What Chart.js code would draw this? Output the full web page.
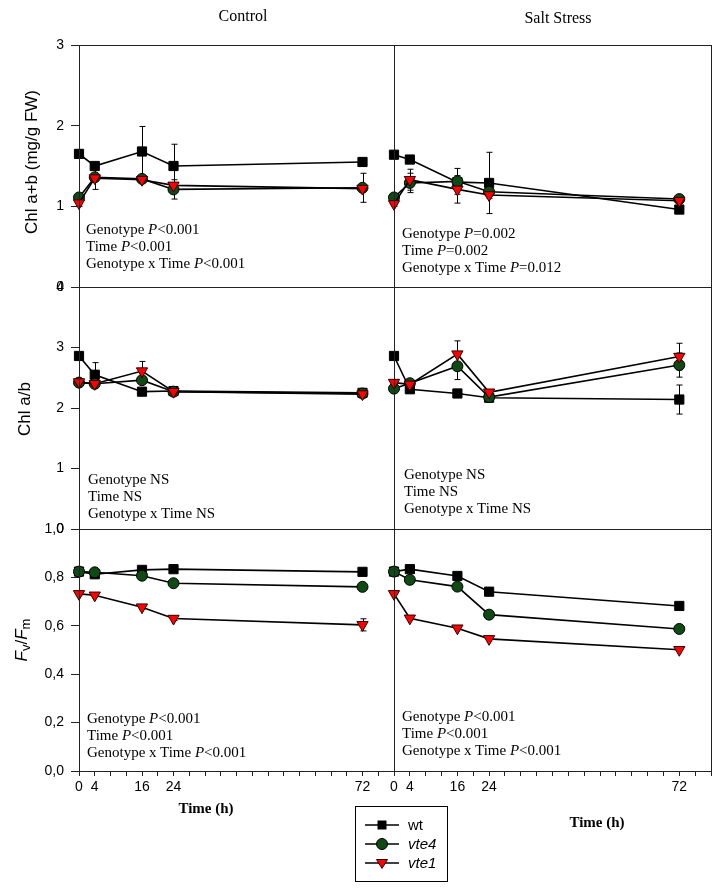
<!DOCTYPE html>
<html>
<head>
<meta charset="utf-8">
<script src="https://cdn.jsdelivr.net/npm/chart.js@4.4.0/dist/chart.umd.min.js"></script>
<style>
body { margin: 0; background: #fff; }
#wrap { position: relative; width: 724px; height: 896px; overflow: hidden; background: #fff; }
#wrap canvas { position: absolute; left: 0; top: 0; }
.serif { position: absolute; font-family: 'Liberation Serif', 'Times New Roman', serif; color: #000; white-space: nowrap; }
.stat { font-size: 15px; line-height: 17px; }
.coltitle { font-size: 16px; transform: translate(-50%, -50%); }
.xtitle { font-size: 15px; font-weight: bold; transform: translate(-50%, -50%); }
.ytitle { position: absolute; font-family: 'Liberation Sans', Arial, sans-serif; font-size: 17px; color: #000; white-space: nowrap; transform: translate(-50%, -50%) rotate(-90deg); }
.ytitle sub { font-size: 13px; vertical-align: -3px; }
#legend { position: absolute; left: 355px; top: 806px; width: 91px; height: 74px; border: 1px solid #000; font-family: 'Liberation Sans', Arial, sans-serif; font-size: 15px; }
#legend .row { position: absolute; left: 9px; height: 18px; }
#legend svg { position: absolute; left: 0; top: 0; }
#legend span { position: absolute; left: 43px; top: 0; line-height: 18px; }
</style>
</head>
<body>
<div id="wrap">
  <canvas id="c0" width="724" height="896"></canvas>
  <canvas id="c1" width="724" height="896"></canvas>
  <canvas id="c2" width="724" height="896"></canvas>
  <canvas id="c3" width="724" height="896"></canvas>
  <canvas id="c4" width="724" height="896"></canvas>
  <canvas id="c5" width="724" height="896"></canvas>

  <div class="serif coltitle" style="left:243px; top:16px;">Control</div>
  <div class="serif coltitle" style="left:558px; top:18px;">Salt Stress</div>

  <div class="ytitle" style="left:32px; top:162px;">Chl a+b (mg/g FW)</div>
  <div class="ytitle" style="left:25px; top:409px;">Chl a/b</div>
  <div class="ytitle" style="left:22px; top:640px;"><i>F</i><sub>v</sub>/<i>F</i><sub>m</sub></div>

  <div class="serif stat" style="left:86px; top:221px;">Genotype <i>P</i>&lt;0.001<br>Time <i>P</i>&lt;0.001<br>Genotype x Time <i>P</i>&lt;0.001</div>
  <div class="serif stat" style="left:402px; top:225px;">Genotype <i>P</i>=0.002<br>Time <i>P</i>=0.002<br>Genotype x Time <i>P</i>=0.012</div>
  <div class="serif stat" style="left:88px; top:471px;">Genotype NS<br>Time NS<br>Genotype x Time NS</div>
  <div class="serif stat" style="left:404px; top:466px;">Genotype NS<br>Time NS<br>Genotype x Time NS</div>
  <div class="serif stat" style="left:87px; top:710px;">Genotype <i>P</i>&lt;0.001<br>Time <i>P</i>&lt;0.001<br>Genotype x Time <i>P</i>&lt;0.001</div>
  <div class="serif stat" style="left:402px; top:708px;">Genotype <i>P</i>&lt;0.001<br>Time <i>P</i>&lt;0.001<br>Genotype x Time <i>P</i>&lt;0.001</div>

  <div class="serif xtitle" style="left:206px; top:808px;">Time (h)</div>
  <div class="serif xtitle" style="left:597px; top:822px;">Time (h)</div>

  <div id="legend">
    <div class="row" style="top:9px;">
      <svg width="40" height="18"><line x1="0" y1="9" x2="34" y2="9" stroke="#000" stroke-width="1.6"/><rect x="12.5" y="4.5" width="9" height="9" fill="#000"/></svg>
      <span>wt</span>
    </div>
    <div class="row" style="top:28px;">
      <svg width="40" height="18"><line x1="0" y1="9" x2="34" y2="9" stroke="#000" stroke-width="1.6"/><circle cx="17" cy="9" r="5.5" fill="#0f4a14" stroke="#000"/></svg>
      <span><i>vte4</i></span>
    </div>
    <div class="row" style="top:47px;">
      <svg width="40" height="18"><line x1="0" y1="9" x2="34" y2="9" stroke="#000" stroke-width="1.6"/><polygon points="11.5,5.5 22.5,5.5 17,14.5" fill="#ff0000" stroke="#300000"/></svg>
      <span><i>vte1</i></span>
    </div>
  </div>
</div>

<script>
// sampling times (h)
var times = [0, 4, 16, 24, 72];
var xTickLabels = [0, 4, 16, 24, 72];
var genotypes = ['wt', 'vte4', 'vte1'];

// Chl a+b (mg/g FW) - control
var chlCtrlWt      = [1.65, 1.50, 1.68, 1.50, 1.55];
var chlCtrlVte4    = [1.11, 1.36, 1.34, 1.21, 1.23];
var chlCtrlVte1    = [1.04, 1.35, 1.33, 1.26, 1.22];
var chlCtrlWtErr   = [0.05, 0.03, 0.31, 0.27, 0.03];
var chlCtrlVte4Err = [0.04, 0.02, 0.03, 0.12, 0.18];
var chlCtrlVte1Err = [0.04, 0.14, 0.04, 0.03, 0.03];

// Chl a+b - salt stress
var chlSaltWt      = [1.64, 1.58, 1.30, 1.29, 0.96];
var chlSaltVte4    = [1.11, 1.29, 1.31, 1.18, 1.09];
var chlSaltVte1    = [1.03, 1.33, 1.21, 1.14, 1.07];
var chlSaltWtErr   = [0.04, 0.04, 0.00, 0.38, 0.02];
var chlSaltVte4Err = [0.03, 0.12, 0.16, 0.03, 0.02];
var chlSaltVte1Err = [0.03, 0.13, 0.17, 0.04, 0.02];

// Chl a/b - control
var abCtrlWt      = [2.86, 2.55, 2.27, 2.28, 2.25];
var abCtrlVte4    = [2.42, 2.40, 2.46, 2.27, 2.24];
var abCtrlVte1    = [2.43, 2.40, 2.61, 2.27, 2.23];
var abCtrlWtErr   = [0.03, 0.20, 0.03, 0.02, 0.02];
var abCtrlVte4Err = [0.02, 0.02, 0.05, 0.02, 0.02];
var abCtrlVte1Err = [0.02, 0.02, 0.16, 0.02, 0.02];

// Chl a/b - salt stress
var abSaltWt      = [2.86, 2.31, 2.24, 2.17, 2.14];
var abSaltVte4    = [2.32, 2.41, 2.69, 2.18, 2.71];
var abSaltVte1    = [2.42, 2.39, 2.89, 2.26, 2.85];
var abSaltWtErr   = [0.02, 0.02, 0.02, 0.02, 0.24];
var abSaltVte4Err = [0.02, 0.02, 0.22, 0.02, 0.20];
var abSaltVte1Err = [0.02, 0.02, 0.22, 0.02, 0.22];

// Fv/Fm - control
var fvCtrlWt      = [0.824, 0.813, 0.831, 0.834, 0.823];
var fvCtrlVte4    = [0.824, 0.821, 0.807, 0.776, 0.761];
var fvCtrlVte1    = [0.732, 0.726, 0.677, 0.630, 0.604];
var fvCtrlWtErr   = [0, 0, 0, 0, 0];
var fvCtrlVte4Err = [0, 0, 0, 0, 0];
var fvCtrlVte1Err = [0.005, 0.005, 0.008, 0.008, 0.025];

// Fv/Fm - salt stress
var fvSaltWt      = [0.824, 0.834, 0.806, 0.741, 0.682];
var fvSaltVte4    = [0.824, 0.790, 0.762, 0.646, 0.587];
var fvSaltVte1    = [0.732, 0.631, 0.590, 0.546, 0.501];
var fvSaltWtErr   = [0, 0, 0, 0, 0];
var fvSaltVte4Err = [0, 0, 0, 0, 0];
var fvSaltVte1Err = [0, 0, 0, 0, 0];

// ---- layout of the 6 plot boxes (pixels) ----
var colLeft = [79, 394], colRight = [394, 711];
var rowTop = [45, 287, 529], rowBottom = [287, 529, 771];
var AXW = 70, AXH = 30;   // axis box sizes (labels are clipped to these)
var lineCol = '#222';

var styles = {
  wt:   { pointStyle: 'rect',     pointRadius: 6.5, pointRotation: 0,   bg: '#000',    border: '#000',    order: 2 },
  vte4: { pointStyle: 'circle',   pointRadius: 5.5, pointRotation: 0,   bg: '#0f4a14', border: '#000',    order: 1 },
  vte1: { pointStyle: 'triangle', pointRadius: 6.5, pointRotation: 180, bg: '#ff0000', border: '#300000', order: 0 }
};

var panels = [
  { row: 0, col: 0, vals: [chlCtrlWt, chlCtrlVte4, chlCtrlVte1], errs: [chlCtrlWtErr, chlCtrlVte4Err, chlCtrlVte1Err], max: 3, step: 1, dec: 0 },
  { row: 0, col: 1, vals: [chlSaltWt, chlSaltVte4, chlSaltVte1], errs: [chlSaltWtErr, chlSaltVte4Err, chlSaltVte1Err], max: 3, step: 1, dec: 0 },
  { row: 1, col: 0, vals: [abCtrlWt, abCtrlVte4, abCtrlVte1], errs: [abCtrlWtErr, abCtrlVte4Err, abCtrlVte1Err], max: 4, step: 1, dec: 0 },
  { row: 1, col: 1, vals: [abSaltWt, abSaltVte4, abSaltVte1], errs: [abSaltWtErr, abSaltVte4Err, abSaltVte1Err], max: 4, step: 1, dec: 0 },
  { row: 2, col: 0, vals: [fvCtrlWt, fvCtrlVte4, fvCtrlVte1], errs: [fvCtrlWtErr, fvCtrlVte4Err, fvCtrlVte1Err], max: 1, step: 0.2, dec: 1 },
  { row: 2, col: 1, vals: [fvSaltWt, fvSaltVte4, fvSaltVte1], errs: [fvSaltWtErr, fvSaltVte4Err, fvSaltVte1Err], max: 1, step: 0.2, dec: 1 }
];

// box around each plot area
var boxPlugin = {
  id: 'box',
  afterDraw: function (chart) {
    var a = chart.chartArea, ctx = chart.ctx;
    ctx.save();
    ctx.strokeStyle = lineCol;
    ctx.lineWidth = 1;
    ctx.strokeRect(Math.round(a.left) + 0.5, Math.round(a.top) + 0.5, Math.round(a.right - a.left), Math.round(a.bottom - a.top));
    ctx.restore();
  }
};

// error bars drawn under the markers
var errPlugin = {
  id: 'errbars',
  beforeDatasetsDraw: function (chart) {
    var ctx = chart.ctx, ys = chart.scales.y;
    ctx.save();
    ctx.strokeStyle = '#000';
    ctx.lineWidth = 1;
    chart.data.datasets.forEach(function (ds, i) {
      var meta = chart.getDatasetMeta(i);
      meta.data.forEach(function (pt, j) {
        var e = ds.errors[j];
        if (!e) return;
        var v = ds.data[j].y;
        var y1 = ys.getPixelForValue(v + e), y2 = ys.getPixelForValue(v - e);
        var x = Math.round(pt.x) + 0.5;
        ctx.beginPath();
        ctx.moveTo(x, y1); ctx.lineTo(x, y2);
        ctx.moveTo(x - 3, y1); ctx.lineTo(x + 3, y1);
        ctx.moveTo(x - 3, y2); ctx.lineTo(x + 3, y2);
        ctx.stroke();
      });
    });
    ctx.restore();
  }
};

var tickFont = { family: "'Liberation Sans', Arial, sans-serif", size: 14 };

panels.forEach(function (p, k) {
  var L = colLeft[p.col], R = colRight[p.col], T = rowTop[p.row], B = rowBottom[p.row];
  var showX = p.row === 2;
  var datasets = genotypes.map(function (g, gi) {
    var s = styles[g];
    return {
      label: g,
      data: times.map(function (t, i) { return { x: t, y: p.vals[gi][i] }; }),
      errors: p.errs[gi],
      borderColor: '#000',
      borderWidth: 1.6,
      pointStyle: s.pointStyle,
      pointRadius: s.pointRadius,
      pointRotation: s.pointRotation,
      pointBackgroundColor: s.bg,
      pointBorderColor: s.border,
      pointBorderWidth: 1,
      order: s.order,
      clip: false,
      tension: 0
    };
  });

  new Chart(document.getElementById('c' + k), {
    type: 'line',
    data: { datasets: datasets },
    options: {
      responsive: false,
      animation: false,
      devicePixelRatio: 1,
      events: [],
      layout: { padding: { left: L - AXW, top: T, right: 724 - R, bottom: showX ? 896 - B - AXH : 896 - B } },
      plugins: { legend: { display: false }, tooltip: { enabled: false } },
      scales: {
        x: {
          type: 'linear', min: 0, max: 80, display: showX,
          afterFit: function (s) { s.height = showX ? AXH : 0; },
          ticks: {
            stepSize: 4, autoSkip: false, maxRotation: 0, padding: 3, color: '#000', font: tickFont,
            callback: function (v) { return xTickLabels.indexOf(v) >= 0 ? String(v) : ''; }
          },
          grid: { drawOnChartArea: false, drawTicks: true, tickLength: 5, color: lineCol, tickColor: lineCol },
          border: { display: true, color: lineCol }
        },
        y: {
          type: 'linear', min: 0, max: p.max,
          afterFit: function (s) { s.width = AXW; },
          ticks: {
            stepSize: p.step, display: p.col === 0, padding: 7, color: '#000', font: tickFont,
            callback: function (v) { return p.dec ? v.toFixed(1).replace('.', ',') : String(v); }
          },
          grid: { drawOnChartArea: false, drawTicks: p.col === 0, tickLength: 8, color: lineCol, tickColor: lineCol },
          border: { display: true, color: lineCol }
        }
      }
    },
    plugins: [errPlugin, boxPlugin]
  });
});
</script>
</body>
</html>
